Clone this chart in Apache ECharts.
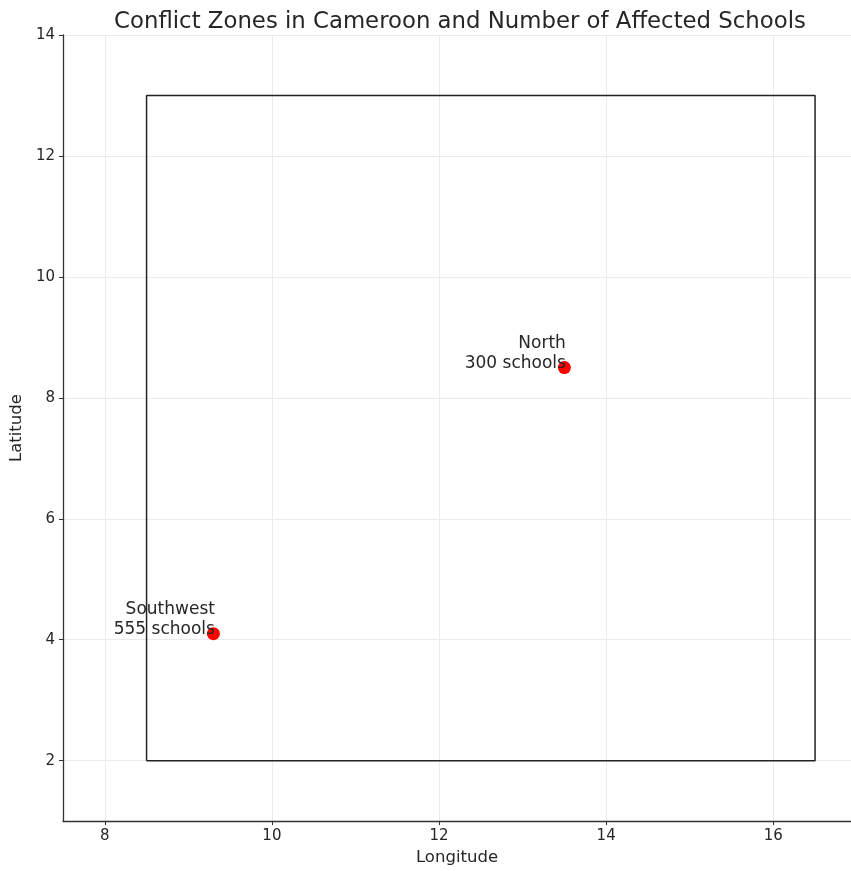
<!DOCTYPE html>
<html>
<head>
<meta charset="utf-8">
<script src="https://cdn.jsdelivr.net/npm/echarts@6/dist/echarts.min.js"></script>
<style>html,body{margin:0;padding:0;background:#fff;}#c{width:851px;height:871px;}</style>
</head>
<body>
<div id="c"></div>
<script>
var regionNames = ['North', 'Southwest'];
var regionLon = [13.5, 9.3];
var regionLat = [8.5, 4.1];
var affectedSchools = [300, 555];
var boundaryLon = [8.5, 16.5, 16.5, 8.5, 8.5];
var boundaryLat = [2, 2, 13, 13, 2];
var xTicks = [8, 10, 12, 14, 16];
var yTicks = [2, 4, 6, 8, 10, 12, 14];

var font = 'DejaVu Sans';
var chart = echarts.init(document.getElementById('c'));
var pts = regionNames.map(function (n, i) {
  return { value: [regionLon[i], regionLat[i]], name: n, schools: affectedSchools[i] };
});
var box = boundaryLon.map(function (x, i) { return [x, boundaryLat[i]]; });

chart.setOption({
  animation: false,
  backgroundColor: '#fff',
  title: {
    text: 'Conflict Zones in Cameroon and Number of Affected Schools',
    left: 455, top: 6, textAlign: 'center',
    textStyle: { fontFamily: font, fontSize: 22.8, fontWeight: 'normal', color: '#262626' }
  },
  grid: { left: 63, top: 35, bottom: 47, right: 0 },
  xAxis: {
    type: 'value', min: 7.5, max: 16.93,
    name: 'Longitude', nameLocation: 'middle', nameGap: 25,
    nameTextStyle: { fontFamily: font, fontSize: 16.5, color: '#262626' },
    axisLine: { show: true, onZero: false, lineStyle: { color: '#333', width: 1.3 } },
    axisTick: { show: true, length: 4, customValues: xTicks, lineStyle: { color: '#333' } },
    axisLabel: { customValues: xTicks, fontFamily: font, fontSize: 15, color: '#262626', margin: 8 },
    splitLine: { show: true, lineStyle: { color: '#ebebeb', width: 1 } }
  },
  yAxis: {
    type: 'value', min: 1, max: 14,
    name: 'Latitude', nameLocation: 'middle', nameGap: 28, nameRotate: 90,
    nameTextStyle: { fontFamily: font, fontSize: 16.5, color: '#262626' },
    axisLine: { show: true, onZero: false, lineStyle: { color: '#333', width: 1.3 } },
    axisTick: { show: true, length: 4, customValues: yTicks, lineStyle: { color: '#333' } },
    axisLabel: { customValues: yTicks, fontFamily: font, fontSize: 15, color: '#262626', margin: 8 },
    splitLine: { show: true, lineStyle: { color: '#ebebeb', width: 1 } }
  },
  series: [
    {
      type: 'line', data: box, symbol: 'none',
      lineStyle: { color: '#222', width: 1.5 }, silent: true
    },
    {
      type: 'scatter', data: pts, symbolSize: 13,
      itemStyle: { color: '#ff0000', opacity: 1 },
      label: {
        show: true, position: 'left', distance: -8,
        align: 'right', verticalAlign: 'bottom', offset: [0, 6],
        fontFamily: font, fontSize: 17, color: '#262626', lineHeight: 20,
        formatter: function (p) { return p.data.name + '\n' + p.data.schools + ' schools'; }
      }
    }
  ]
});
</script>
</body>
</html>
